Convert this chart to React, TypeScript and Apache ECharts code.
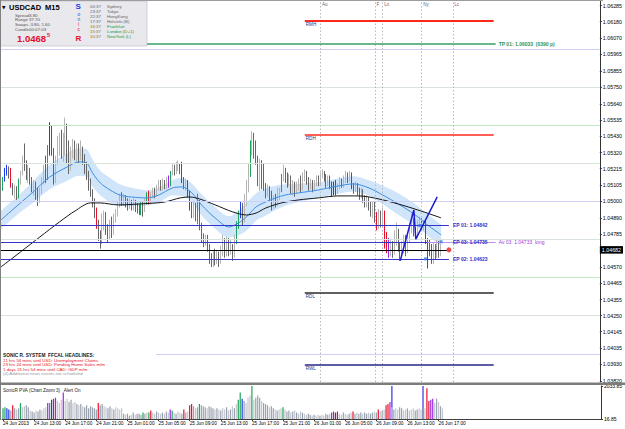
import { useEffect, useRef } from 'react';
import * as echarts from 'echarts';

const FONT = 'Liberation Sans';

// ---------- data ----------
const timeLabels = ['24 Jun 2013', '24 Jun 13:00', '24 Jun 17:00', '24 Jun 21:00', '25 Jun 01:00', '25 Jun 05:00', '25 Jun 09:00', '25 Jun 13:00', '25 Jun 17:00', '25 Jun 21:00', '26 Jun 01:00', '26 Jun 05:00', '26 Jun 09:00', '26 Jun 13:00', '26 Jun 17:00'];
const LABEL_EVERY = 16;
const SLOT_COUNT = 308;

const priceTicks = [1.06285, 1.0618, 1.0607, 1.05965, 1.05855, 1.0575, 1.0564, 1.05535, 1.0543, 1.0532, 1.05215, 1.05105, 1.05, 1.0489, 1.04785, 1.0457, 1.04465, 1.04355, 1.0425, 1.04145, 1.04035, 1.0393, 1.0382];
const volumeTicks = [16.85, 2033.85];
const currentPrice = 1.04682;

// [open, close, low, high]
const candles = [
  [1.0501, 1.0510, 1.0500, 1.0511], [1.0510, 1.0515, 1.0507, 1.0516], [1.0515, 1.0520, 1.0513, 1.0522], [1.0520, 1.0522, 1.0517, 1.0524], [1.0522, 1.0517, 1.0515, 1.0523],
  [1.0517, 1.0511, 1.0509, 1.0522], [1.0511, 1.0506, 1.0504, 1.0512], [1.0506, 1.0509, 1.0502, 1.0511], [1.0509, 1.0503, 1.0501, 1.0510], [1.0503, 1.0514, 1.0502, 1.0515],
  [1.0514, 1.0519, 1.0511, 1.0520], [1.0519, 1.0527, 1.0517, 1.0530], [1.0527, 1.0524, 1.0520, 1.0538], [1.0524, 1.0517, 1.0514, 1.0527], [1.0517, 1.0520, 1.0512, 1.0524],
  [1.0520, 1.0514, 1.0511, 1.0522], [1.0514, 1.0509, 1.0506, 1.0516], [1.0509, 1.0512, 1.0504, 1.0514], [1.0512, 1.0504, 1.0501, 1.0513], [1.0504, 1.0501, 1.0497, 1.0509],
  [1.0501, 1.0507, 1.0499, 1.0509], [1.0507, 1.0514, 1.0505, 1.0516], [1.0514, 1.0520, 1.0511, 1.0524], [1.0520, 1.0516, 1.0512, 1.0530], [1.0516, 1.0534, 1.0514, 1.0537],
  [1.0534, 1.0548, 1.0530, 1.0552], [1.0548, 1.0534, 1.0530, 1.0550], [1.0534, 1.0514, 1.0511, 1.0535], [1.0514, 1.0527, 1.0512, 1.0530], [1.0527, 1.0537, 1.0524, 1.0543],
  [1.0537, 1.0541, 1.0530, 1.0545], [1.0541, 1.0531, 1.0528, 1.0547], [1.0531, 1.0540, 1.0526, 1.0545], [1.0540, 1.0548, 1.0530, 1.0555], [1.0548, 1.0530, 1.0525, 1.0551],
  [1.0530, 1.0522, 1.0518, 1.0540], [1.0522, 1.0532, 1.0520, 1.0536], [1.0532, 1.0537, 1.0528, 1.0541], [1.0537, 1.0530, 1.0527, 1.0540], [1.0530, 1.0536, 1.0526, 1.0538],
  [1.0536, 1.0529, 1.0525, 1.0538], [1.0529, 1.0534, 1.0527, 1.0540], [1.0534, 1.0528, 1.0524, 1.0536], [1.0528, 1.0522, 1.0518, 1.0531], [1.0522, 1.0517, 1.0514, 1.0526],
  [1.0517, 1.0511, 1.0507, 1.0520], [1.0511, 1.0505, 1.0503, 1.0515], [1.0505, 1.0499, 1.0496, 1.0508], [1.0499, 1.0495, 1.0489, 1.0502], [1.0495, 1.0486, 1.0482, 1.0496],
  [1.0486, 1.0478, 1.0474, 1.0488], [1.0478, 1.0474, 1.0469, 1.0481], [1.0474, 1.0485, 1.0472, 1.0492], [1.0485, 1.0490, 1.0481, 1.0494], [1.0490, 1.0481, 1.0478, 1.0493],
  [1.0481, 1.0477, 1.0473, 1.0485], [1.0477, 1.0485, 1.0475, 1.0488], [1.0485, 1.0480, 1.0476, 1.0490], [1.0480, 1.0488, 1.0478, 1.0492], [1.0488, 1.0493, 1.0486, 1.0495],
  [1.0493, 1.0498, 1.0490, 1.0500], [1.0498, 1.0503, 1.0496, 1.0505], [1.0503, 1.0500, 1.0497, 1.0506], [1.0500, 1.0502, 1.0497, 1.0505], [1.0502, 1.0499, 1.0496, 1.0504],
  [1.0499, 1.0497, 1.0494, 1.0502], [1.0497, 1.0500, 1.0495, 1.0502], [1.0500, 1.0497, 1.0494, 1.0501], [1.0497, 1.0499, 1.0494, 1.0502], [1.0499, 1.0496, 1.0493, 1.0501],
  [1.0496, 1.0495, 1.0492, 1.0499], [1.0495, 1.0493, 1.0491, 1.0498], [1.0493, 1.0499, 1.0491, 1.0500], [1.0499, 1.0494, 1.0490, 1.0500], [1.0494, 1.0500, 1.0493, 1.0502],
  [1.0500, 1.0505, 1.0498, 1.0506], [1.0505, 1.0500, 1.0498, 1.0507], [1.0500, 1.0504, 1.0499, 1.0506], [1.0504, 1.0507, 1.0502, 1.0509], [1.0507, 1.0505, 1.0502, 1.0509],
  [1.0505, 1.0509, 1.0503, 1.0511], [1.0509, 1.0512, 1.0507, 1.0514], [1.0512, 1.0509, 1.0507, 1.0514], [1.0509, 1.0512, 1.0507, 1.0515], [1.0512, 1.0510, 1.0508, 1.0514],
  [1.0510, 1.0514, 1.0508, 1.0516], [1.0514, 1.0511, 1.0509, 1.0517], [1.0511, 1.0519, 1.0510, 1.0520], [1.0519, 1.0522, 1.0517, 1.0525], [1.0522, 1.0520, 1.0517, 1.0524],
  [1.0520, 1.0523, 1.0518, 1.0526], [1.0523, 1.0524, 1.0520, 1.0527], [1.0524, 1.0521, 1.0518, 1.0525], [1.0521, 1.0514, 1.0512, 1.0526], [1.0514, 1.0511, 1.0508, 1.0516],
  [1.0511, 1.0513, 1.0507, 1.0515], [1.0513, 1.0505, 1.0503, 1.0514], [1.0505, 1.0497, 1.0494, 1.0507], [1.0497, 1.0493, 1.0489, 1.0500], [1.0493, 1.0497, 1.0489, 1.0500],
  [1.0497, 1.0490, 1.0487, 1.0499], [1.0490, 1.0500, 1.0485, 1.0505], [1.0500, 1.0484, 1.0481, 1.0501], [1.0484, 1.0477, 1.0473, 1.0486], [1.0477, 1.0474, 1.0470, 1.0479],
  [1.0474, 1.0476, 1.0471, 1.0478], [1.0476, 1.0470, 1.0467, 1.0478], [1.0470, 1.0462, 1.0459, 1.0472], [1.0462, 1.0459, 1.0457, 1.0466], [1.0459, 1.0465, 1.0457, 1.0468],
  [1.0465, 1.0461, 1.0458, 1.0469], [1.0461, 1.0466, 1.0459, 1.0468], [1.0466, 1.0460, 1.0457, 1.0467], [1.0460, 1.0467, 1.0459, 1.0471], [1.0467, 1.0472, 1.0464, 1.0478],
  [1.0472, 1.0466, 1.0463, 1.0476], [1.0466, 1.0471, 1.0464, 1.0477], [1.0471, 1.0467, 1.0464, 1.0476], [1.0467, 1.0470, 1.0465, 1.0475], [1.0470, 1.0464, 1.0461, 1.0472],
  [1.0464, 1.0474, 1.0463, 1.0478], [1.0474, 1.0485, 1.0472, 1.0487], [1.0485, 1.0492, 1.0482, 1.0494], [1.0492, 1.0496, 1.0489, 1.0500], [1.0496, 1.0488, 1.0484, 1.0499],
  [1.0488, 1.0500, 1.0486, 1.0505], [1.0500, 1.0510, 1.0497, 1.0514], [1.0510, 1.0520, 1.0506, 1.0525], [1.0520, 1.0534, 1.0516, 1.0540], [1.0534, 1.0540, 1.0530, 1.0546],
  [1.0540, 1.0532, 1.0528, 1.0545], [1.0532, 1.0528, 1.0524, 1.0540], [1.0528, 1.0516, 1.0510, 1.0530], [1.0516, 1.0522, 1.0507, 1.0528], [1.0522, 1.0515, 1.0508, 1.0527],
  [1.0515, 1.0510, 1.0507, 1.0525], [1.0510, 1.0505, 1.0502, 1.0512], [1.0505, 1.0509, 1.0503, 1.0511], [1.0509, 1.0503, 1.0500, 1.0510], [1.0503, 1.0497, 1.0494, 1.0507],
  [1.0497, 1.0502, 1.0495, 1.0504], [1.0502, 1.0498, 1.0496, 1.0505], [1.0498, 1.0505, 1.0497, 1.0509], [1.0505, 1.0507, 1.0501, 1.0509], [1.0507, 1.0516, 1.0506, 1.0518],
  [1.0516, 1.0520, 1.0513, 1.0524], [1.0520, 1.0515, 1.0512, 1.0522], [1.0515, 1.0512, 1.0509, 1.0519], [1.0512, 1.0516, 1.0510, 1.0518], [1.0516, 1.0508, 1.0505, 1.0517],
  [1.0508, 1.0512, 1.0504, 1.0514], [1.0512, 1.0507, 1.0503, 1.0513], [1.0507, 1.0510, 1.0505, 1.0513], [1.0510, 1.0513, 1.0507, 1.0515], [1.0513, 1.0509, 1.0506, 1.0517],
  [1.0509, 1.0516, 1.0507, 1.0519], [1.0516, 1.0518, 1.0513, 1.0521], [1.0518, 1.0514, 1.0511, 1.0520], [1.0514, 1.0510, 1.0507, 1.0516], [1.0510, 1.0513, 1.0508, 1.0515],
  [1.0513, 1.0509, 1.0506, 1.0514], [1.0509, 1.0512, 1.0507, 1.0514], [1.0512, 1.0515, 1.0510, 1.0517], [1.0515, 1.0513, 1.0510, 1.0517], [1.0513, 1.0517, 1.0511, 1.0519],
  [1.0517, 1.0519, 1.0515, 1.0521], [1.0519, 1.0516, 1.0513, 1.0520], [1.0516, 1.0512, 1.0509, 1.0518], [1.0512, 1.0515, 1.0510, 1.0517], [1.0515, 1.0511, 1.0508, 1.0517],
  [1.0511, 1.0506, 1.0503, 1.0513], [1.0506, 1.0511, 1.0504, 1.0513], [1.0511, 1.0507, 1.0504, 1.0514], [1.0507, 1.0510, 1.0505, 1.0512], [1.0510, 1.0513, 1.0508, 1.0516],
  [1.0513, 1.0511, 1.0509, 1.0515], [1.0511, 1.0514, 1.0509, 1.0517], [1.0514, 1.0517, 1.0512, 1.0520], [1.0517, 1.0515, 1.0512, 1.0519], [1.0515, 1.0518, 1.0513, 1.0520],
  [1.0518, 1.0510, 1.0508, 1.0519], [1.0510, 1.0508, 1.0505, 1.0512], [1.0508, 1.0511, 1.0506, 1.0513], [1.0511, 1.0507, 1.0504, 1.0512], [1.0507, 1.0504, 1.0501, 1.0509],
  [1.0504, 1.0507, 1.0502, 1.0509], [1.0507, 1.0502, 1.0499, 1.0508], [1.0502, 1.0499, 1.0496, 1.0504], [1.0499, 1.0502, 1.0496, 1.0504], [1.0502, 1.0497, 1.0494, 1.0503],
  [1.0497, 1.0493, 1.0490, 1.0500], [1.0493, 1.0497, 1.0489, 1.0500], [1.0497, 1.0490, 1.0486, 1.0500], [1.0490, 1.0484, 1.0481, 1.0493], [1.0484, 1.0490, 1.0482, 1.0495],
  [1.0490, 1.0486, 1.0483, 1.0494], [1.0486, 1.0491, 1.0483, 1.0496], [1.0491, 1.0472, 1.0469, 1.0494], [1.0472, 1.0468, 1.0466, 1.0480], [1.0468, 1.0466, 1.0463, 1.0476],
  [1.0466, 1.0472, 1.0464, 1.0475], [1.0472, 1.0466, 1.0463, 1.0474], [1.0466, 1.0475, 1.0465, 1.0481], [1.0475, 1.0480, 1.0471, 1.0486], [1.0480, 1.0470, 1.0467, 1.0482],
  [1.0470, 1.0465, 1.0461, 1.0473], [1.0465, 1.0470, 1.0463, 1.0474], [1.0470, 1.0476, 1.0466, 1.0478], [1.0476, 1.0468, 1.0464, 1.0478], [1.0468, 1.0475, 1.0466, 1.0479],
  [1.0475, 1.0482, 1.0473, 1.0486], [1.0482, 1.0486, 1.0479, 1.0492], [1.0486, 1.0480, 1.0477, 1.0489], [1.0480, 1.0478, 1.0475, 1.0483], [1.0478, 1.0485, 1.0476, 1.0488],
  [1.0485, 1.0487, 1.0483, 1.0490], [1.0487, 1.0484, 1.0481, 1.0489], [1.0484, 1.0486, 1.0481, 1.0488], [1.0486, 1.0474, 1.0472, 1.0488], [1.0474, 1.0465, 1.0456, 1.0476],
  [1.0471, 1.0467, 1.0464, 1.0475], [1.0468, 1.0463, 1.0459, 1.0472], [1.0463, 1.0469, 1.0459, 1.0473], [1.0469, 1.0465, 1.0462, 1.0472], [1.0465, 1.0471, 1.0463, 1.0475],
  [1.0471, 1.0466, 1.0463, 1.0474], [1.0466, 1.04682, 1.0464, 1.0472],
];

const volumes = [
  667, 732, 667, 602, 537, 862, 667, 602, 667, 992,
  732, 797, 862, 732, 537, 472, 407, 537, 472, 602,
  537, 667, 732, 992, 992, 1187, 1252, 1317, 1122, 992,
  1187, 1642, 1122, 1252, 1057, 1187, 992, 1057, 927, 862,
  927, 797, 732, 862, 667, 797, 732, 667, 602, 992,
  862, 927, 797, 732, 667, 797, 667, 602, 732, 667,
  602, 667, 342, 277, 342, 212, 277, 407, 277, 342,
  342, 277, 407, 342, 407, 407, 537, 407, 342, 472,
  407, 342, 407, 342, 472, 407, 602, 537, 407, 342,
  472, 407, 342, 602, 407, 472, 862, 927, 797, 667,
  732, 927, 862, 797, 732, 667, 797, 732, 667, 602,
  667, 602, 537, 667, 602, 732, 537, 602, 797, 667,
  927, 1187, 1642, 1252, 1122, 992, 1317, 1447, 2033.85, 1187,
  1317, 1447, 1317, 1122, 992, 927, 862, 732, 797, 667,
  602, 537, 602, 667, 732, 602, 472, 537, 407, 472,
  537, 407, 342, 472, 407, 342, 277, 342, 277, 212,
  277, 212, 277, 212, 277, 212, 342, 277, 342, 407,
  472, 407, 472, 342, 277, 407, 342, 277, 342, 407,
  472, 342, 407, 342, 407, 342, 407, 342, 407, 342,
  407, 472, 407, 602, 472, 537, 602, 862, 927, 1057,
  732, 602, 667, 602, 732, 667, 537, 602, 667, 537,
  602, 667, 537, 602, 667, 602, 732, 667, 1902, 1122,
  1187, 1252, 992, 1252, 1057, 797, 667,
];

// price/volume analysis highlights: [bar index, class]
const pvaBars: [number, string][] = [
  [0, 'G'], [1, 'G'], [2, 'B'], [3, 'B'], [5, 'R'], [9, 'G'], [23, 'P'], [24, 'G'], [25, 'B'], [26, 'R'], [27, 'P'], [31, 'P'],
  [49, 'R'], [72, 'G'], [75, 'G'], [76, 'R'], [86, 'P'], [87, 'G'], [93, 'R'], [96, 'R'], [97, 'R'], [101, 'G'],
  [121, 'G'], [122, 'G'], [123, 'B'], [128, 'G'], [144, 'G'], [169, 'P'], [170, 'R'], [171, 'B'], [172, 'R'], [180, 'R'],
  [193, 'R'], [197, 'R'], [198, 'R'], [199, 'P'], [218, 'R'], [219, 'R'], [220, 'P'], [221, 'P'],
];
const pvaBoxes = [[195, 201], [217, 223]];

const ema89Pts = [
  [0, 1.0457], [10, 1.04668], [20, 1.04767], [30, 1.04865], [38, 1.04937], [46, 1.0499], [51, 1.0499], [60, 1.04977],
  [76, 1.04987], [84, 1.04996], [92, 1.05023], [97, 1.05029], [102, 1.05016], [110, 1.04977], [119, 1.04931], [126, 1.04911],
  [131, 1.04924], [136, 1.04957], [144, 1.0499], [153, 1.0501], [163, 1.05023], [173, 1.05036], [184, 1.05036], [194, 1.05016],
  [204, 1.04983], [214, 1.04944], [226, 1.04892],
];

const dragonIdx = [0, 10, 16, 25, 34, 40, 44, 47, 51, 56, 61, 67, 75, 81, 88, 93, 98, 103, 110, 117, 122, 126, 131, 136, 141, 146, 153, 163, 173, 181, 189, 196, 204, 212, 219, 226];
const ema34 = [1.04878, 1.0499, 1.05056, 1.0516, 1.05226, 1.05259, 1.05252, 1.05187, 1.05121, 1.05075, 1.05042, 1.05029, 1.05023, 1.05042, 1.05088, 1.05095, 1.05056, 1.04977, 1.04891, 1.04832, 1.04859, 1.04898, 1.04964, 1.04997, 1.05023, 1.05042, 1.05056, 1.05075, 1.05101, 1.05115, 1.05088, 1.05042, 1.04983, 1.04918, 1.04846, 1.0478];
const dragonHigh = [1.04938, 1.0505, 1.05126, 1.0524, 1.05316, 1.05349, 1.05342, 1.05277, 1.05201, 1.05155, 1.05112, 1.05089, 1.05073, 1.05092, 1.05138, 1.05155, 1.05116, 1.05047, 1.04961, 1.04902, 1.04939, 1.04988, 1.05054, 1.05087, 1.05103, 1.05112, 1.05116, 1.05125, 1.05151, 1.05165, 1.05138, 1.05102, 1.05053, 1.04988, 1.04916, 1.0485];
const dragonLow = [1.04818, 1.0493, 1.04986, 1.0508, 1.05136, 1.05169, 1.05162, 1.05097, 1.05041, 1.04995, 1.04972, 1.04969, 1.04973, 1.04992, 1.05038, 1.05035, 1.04996, 1.04907, 1.04821, 1.04762, 1.04779, 1.04808, 1.04874, 1.04907, 1.04943, 1.04972, 1.04996, 1.05025, 1.05051, 1.05065, 1.05038, 1.04982, 1.04913, 1.04848, 1.04776, 1.0471];

const trendPts = [[205, 1.04611], [212, 1.04944], [213, 1.04752], [224, 1.0503]];

const sessionIdx = [164, 192, 196, 216, 232];
const sessionNames = ['Au', 'F', 'Ln', 'Ny', 'Lc'];

const roundLevels = [1.06, 1.0575, 1.055, 1.0525, 1.05, 1.0475, 1.045, 1.0425, 1.04];

const rangeNames = ['RMH', 'RDH', 'RDL', 'RWL'];
const rangePrices = [1.06186, 1.05436, 1.04399, 1.03927];
const rangeSpan = [156, 253];

const entryNames = ['EP 01', 'EP 03', 'EP 02'];
const entryPrices = [1.04842, 1.04735, 1.04623];
const entryEnd = 230;
const entryMarks = [[215, 1.04842], [218, 1.04623], [226, 1.04735]];

const tpPrice = 1.06033;
const tpPips = '0390';
const tpEnd = 254;
const avPrice = 1.04733;
const avSpan = [219, 254];
const bidEnd = 229;
const bidDot = [[230, 1.04682]];

const clockTimes = ['00:37', '23:37', '22:37', '17:37', '16:37', '15:37', '10:37'];
const clockCities = ['Sydney', 'Tokyo', 'HongKong', 'Helsinki (B)', 'Frankfurt', 'London (D+1)', 'NewYork (L)'];
const symbolInfo = [['Spread', '3.80'], ['Range', '37.70'], ['Swaps', '-3.80, 1.60'], ['Candle', '00:07:03']];
const headlines = ['21 hrs 54 mins until USD: Unemployment Claims', '23 hrs 24 mins until USD: Pending Home Sales m/m', '1 days 21 hrs 54 mins until CAD: GDP m/m'];

// ---------- option ----------
const PVA_COLOR: Record<string, string> = { R: '#e8102a', G: '#1fa45c', B: '#1c3cf0', P: '#9a28e6' };
const HIDDEN = 'rgba(0,0,0,0)';

function txt(x: number, y: number, text: string, size: number, fill: string, weight = 'normal', family = FONT) {
  return {
    type: 'text', x, y, z: 100,
    style: { text, fontSize: size, fontFamily: family, fontWeight: weight, fill, textVerticalAlign: 'middle', verticalAlign: 'middle' },
  };
}

function buildOption() {
  const categories = Array.from({ length: SLOT_COUNT }, (_, i) =>
    i % LABEL_EVERY === 0 && i / LABEL_EVERY < timeLabels.length ? timeLabels[i / LABEL_EVERY] : '');
  const pvaMap = new Map(pvaBars);

  const candleData = candles.map((c, i) => {
    const code = pvaMap.get(i);
    if (!code) return c;
    const col = PVA_COLOR[code];
    return { value: c, itemStyle: { color: col, color0: col, borderColor: col, borderColor0: col } };
  });
  const volData = volumes.map((v, i) => {
    const code = pvaMap.get(i);
    const bull = candles[i][1] >= candles[i][0];
    return { value: v, itemStyle: { color: code ? PVA_COLOR[code] : bull ? '#c3c7cf' : '#9aa1ae' } };
  });

  const roundColor = (p: number) => {
    const r = Math.round(p * 10000) % 100;
    return r === 0 ? '#cfcff5' : r === 50 ? '#c2eac2' : '#d9e3d9';
  };

  const seg = (x0: number, x1: number, p: number, lineStyle: any, label: any) => [
    { coord: [x0, p], lineStyle, label },
    { coord: [x1, p] },
  ];

  const levelLines: any[] = [
    seg(0, tpEnd, tpPrice, { color: '#35a06a', width: 1.5, type: 'solid' },
      { show: true, position: 'end', distance: 3, formatter: `TP 01: ${tpPrice.toFixed(5)}  (${tpPips} p)`, color: '#2b955c', fontWeight: 'bold', fontSize: 5 }),
    ...rangeNames.map((n, i) => seg(rangeSpan[0], rangeSpan[1], rangePrices[i],
      { color: i < 2 ? '#ff2a1a' : i === 2 ? '#2a2a2a' : '#26268c', width: i === 0 ? 2 : 1.5, type: 'solid' },
      { show: true, position: 'insideStartBottom', distance: 1, formatter: n, color: '#34347a', fontSize: 4.6 })),
    ...entryNames.map((n, i) => seg(0, entryEnd, entryPrices[i], { color: '#3434c8', width: 1, type: 'solid' },
      { show: true, position: 'end', distance: 4, formatter: `${n}: ${entryPrices[i].toFixed(5)}`, color: '#2f2fc8', fontWeight: 'bold', fontSize: 5 })),
    seg(avSpan[0], avSpan[1], avPrice, { color: '#c08ef0', width: 1, type: 'solid' },
      { show: true, position: 'end', distance: 3, formatter: `Av 03: ${avPrice.toFixed(5)}  long`, color: '#a23ce0', fontSize: 5 }),
    seg(0, bidEnd, currentPrice, { color: '#000000', width: 1, type: 'solid' }, { show: false }),
    {
      yAxis: currentPrice, lineStyle: { color: HIDDEN, width: 0 },
      label: { show: true, position: 'end', distance: 0, formatter: currentPrice.toFixed(5), backgroundColor: '#000', color: '#fff', fontSize: 5.3, padding: [1.5, 2, 1, 2] },
    },
  ];

  const graphic: any[] = [
    { type: 'rect', z: 100, shape: { x: 0, y: 0, width: 603, height: 1 }, style: { fill: '#9c9c9c' } },
    { type: 'rect', z: 100, shape: { x: 0, y: 0, width: 1, height: 420 }, style: { fill: '#808080' } },
    { type: 'rect', z: 100, shape: { x: 0, y: 382.5, width: 625, height: 2.5 }, style: { fill: '#7c7c7c' } },
    // info panel
    { type: 'rect', z: 99, shape: { x: 0, y: 1, width: 147, height: 45 }, style: { fill: '#e8e8ed', stroke: '#b9b9c2', lineWidth: 0.6 } },
    txt(2, 7.5, '▼', 4.5, '#000', 'normal', 'DejaVu Sans'),
    txt(9, 7.5, 'USDCAD', 7.5, '#000', 'bold'),
    txt(45, 7.5, 'M15', 7.5, '#000', 'bold'),
    ...symbolInfo.flatMap((r, i) => [txt(15, 15 + i * 4.8, r[0], 4.4, '#555'), txt(29, 15 + i * 4.8, r[1], 4.4, '#555')]),
    txt(17, 38, '1.0468', 9.5, '#e0102c', 'bold'),
    txt(47, 35, '5', 5.5, '#e0102c', 'bold'),
    txt(75.5, 6.5, 'S', 8, '#2040e0', 'bold'),
    txt(77.5, 14.7, 'o', 4.8, '#2a4ad8'),
    txt(77.5, 19.7, 'n', 4.8, '#2a4ad8'),
    txt(78, 24.7, 'i', 4.8, '#e0102c'),
    txt(77.5, 29.7, 'c', 4.8, '#e0102c'),
    txt(75.5, 38, 'R', 8, '#e0102c', 'bold'),
    ...clockTimes.flatMap((t, i) => [
      txt(90, 6 + i * 5, t, 4.4, i < 4 ? '#666' : '#9a7420'),
      txt(107, 6 + i * 5, clockCities[i], 4.4, i < 4 ? '#666' : '#1a9a3a'),
    ]),
    // headlines
    { type: 'rect', z: 99, shape: { x: 1, y: 350, width: 155, height: 28 }, style: { fill: '#ffffff' } },
    txt(3, 355, 'SONIC R. SYSTEM  FFCAL HEADLINES:', 4.8, '#222', 'bold'),
    ...headlines.map((h, i) => txt(3, 360 + i * 4.6, h, 4.4, '#e8102a')),
    txt(3, 373.8, '(4) Additional news events not scheduled', 4.4, '#9a9a9a'),
    // indicator title
    txt(3, 390, 'SonicR PVA (Chart Zoom 3)   Alert On', 4.6, '#222'),
  ];

  return {
    animation: false,
    backgroundColor: '#ffffff',
    textStyle: { fontFamily: FONT },
    graphic,
    grid: [
      { left: 0, right: 22, top: 1, height: 381 },
      { left: 0, right: 22, top: 386, height: 33 },
    ],
    xAxis: [
      { type: 'category', gridIndex: 0, data: categories, boundaryGap: true, show: false },
      {
        type: 'category', gridIndex: 1, data: categories, boundaryGap: true,
        axisLine: { show: true, lineStyle: { color: '#404040', width: 1 } },
        axisTick: { show: true, alignWithLabel: true, interval: (_i: number, v: string) => v !== '', length: 2, lineStyle: { color: '#404040' } },
        axisLabel: { interval: 0, align: 'left', fontSize: 4.7, color: '#000', margin: 2, fontFamily: FONT },
        splitLine: { show: false },
      },
    ],
    yAxis: [
      {
        type: 'value', gridIndex: 0, position: 'right', min: 1.03815, max: 1.06315,
        axisLine: { show: true, lineStyle: { color: '#333', width: 1 } },
        axisTick: { show: true, customValues: priceTicks, length: 2, lineStyle: { color: '#333' } },
        axisLabel: { customValues: priceTicks, formatter: (v: number) => v.toFixed(5), fontSize: 5.3, color: '#000', margin: 3, fontFamily: FONT },
        splitLine: { show: false },
      },
      {
        type: 'value', gridIndex: 1, position: 'right', min: volumeTicks[0], max: volumeTicks[1],
        axisLine: { show: true, lineStyle: { color: '#333', width: 1 } },
        axisTick: { show: true, customValues: volumeTicks, length: 2, lineStyle: { color: '#333' } },
        axisLabel: { customValues: volumeTicks, formatter: (v: number) => v.toFixed(2), fontSize: 5, color: '#000', margin: 3, fontFamily: FONT },
        splitLine: { show: false },
      },
    ],
    series: [
      {
        type: 'line', name: 'levels', xAxisIndex: 0, yAxisIndex: 0, z: 0, silent: true,
        data: [[0, roundLevels[0]]], symbol: 'none', lineStyle: { color: HIDDEN, width: 0 },
        markLine: {
          silent: true, precision: 6, symbol: ['none', 'none'], label: { show: false },
          data: roundLevels.map((p) => ({ yAxis: p, lineStyle: { color: roundColor(p), width: 1, type: 'solid', opacity: 1 } })),
        },
      },
      {
        type: 'line', name: 'dragonLow', xAxisIndex: 0, yAxisIndex: 0, z: 1, silent: true,
        data: dragonIdx.map((x, i) => [x, dragonLow[i]]), stack: 'dragon', symbol: 'none', smooth: 0.3,
        lineStyle: { color: HIDDEN, width: 0 },
      },
      {
        type: 'line', name: 'dragon', xAxisIndex: 0, yAxisIndex: 0, z: 1, silent: true,
        data: dragonIdx.map((x, i) => [x, dragonHigh[i] - dragonLow[i]]), stack: 'dragon', symbol: 'none', smooth: 0.3,
        lineStyle: { color: HIDDEN, width: 0 }, areaStyle: { color: '#d0e5f9', opacity: 1 },
      },
      {
        type: 'candlestick', xAxisIndex: 0, yAxisIndex: 0, z: 3, barWidth: 1,
        data: candleData,
        itemStyle: { color: '#b5b5b5', color0: '#666666', borderColor: '#b5b5b5', borderColor0: '#666666', borderWidth: 1 },
        markLine: {
          silent: true, precision: 6, symbol: ['none', 'none'],
          data: sessionIdx.map((x) => ({ xAxis: x, lineStyle: { color: '#b8b8b8', width: 1, type: [1.5, 2] }, label: { show: false } })),
        },
      },
      {
        type: 'line', name: 'ema34', xAxisIndex: 0, yAxisIndex: 0, z: 4, silent: true,
        data: dragonIdx.map((x, i) => [x, ema34[i]]), symbol: 'none', smooth: 0.3,
        lineStyle: { color: '#3d8de2', width: 1 },
      },
      {
        type: 'line', name: 'ema89', xAxisIndex: 0, yAxisIndex: 0, z: 4, silent: true,
        data: ema89Pts, symbol: 'none', smooth: 0.3,
        lineStyle: { color: '#161616', width: 1 },
        markLine: { silent: true, precision: 6, symbol: ['none', 'none'], data: levelLines },
      },
      {
        type: 'line', name: 'trend', xAxisIndex: 0, yAxisIndex: 0, z: 5, silent: true,
        data: trendPts, symbol: 'none', lineStyle: { color: '#1d1dcc', width: 1.5 },
      },
      {
        type: 'scatter', xAxisIndex: 0, yAxisIndex: 0, z: 6, silent: true, symbolSize: 0,
        data: sessionIdx.map((x) => [x, 1.0629]),
        label: { show: true, position: 'right', distance: 1.5, formatter: (p: any) => sessionNames[p.dataIndex], fontSize: 4.6, color: '#33335e' },
      },
      {
        type: 'scatter', xAxisIndex: 0, yAxisIndex: 0, z: 6, silent: true, symbol: 'rect', symbolSize: 3,
        data: entryMarks, itemStyle: { color: '#3c7ae6' },
      },
      {
        type: 'scatter', xAxisIndex: 0, yAxisIndex: 0, z: 6, silent: true, symbol: 'circle', symbolSize: 5,
        data: bidDot, itemStyle: { color: '#e31b1b' },
      },
      {
        type: 'bar', xAxisIndex: 1, yAxisIndex: 1, z: 3, barWidth: 1.2, silent: true,
        data: volData,
        markArea: {
          silent: true,
          itemStyle: { color: HIDDEN, borderColor: '#3434e0', borderWidth: 1.2 },
          data: pvaBoxes.map(([a, b]) => [{ xAxis: a }, { xAxis: b }]),
        },
      },
    ],
  };
}

export default function App() {
  const ref = useRef<HTMLDivElement>(null);
  useEffect(() => {
    const chart = echarts.init(ref.current as HTMLDivElement, null, { renderer: 'svg' });
    chart.setOption(buildOption() as any);
    return () => chart.dispose();
  }, []);
  return <div ref={ref} style={{ position: 'fixed', left: 0, top: 0, width: 625, height: 429, background: '#fff' }} />;
}
